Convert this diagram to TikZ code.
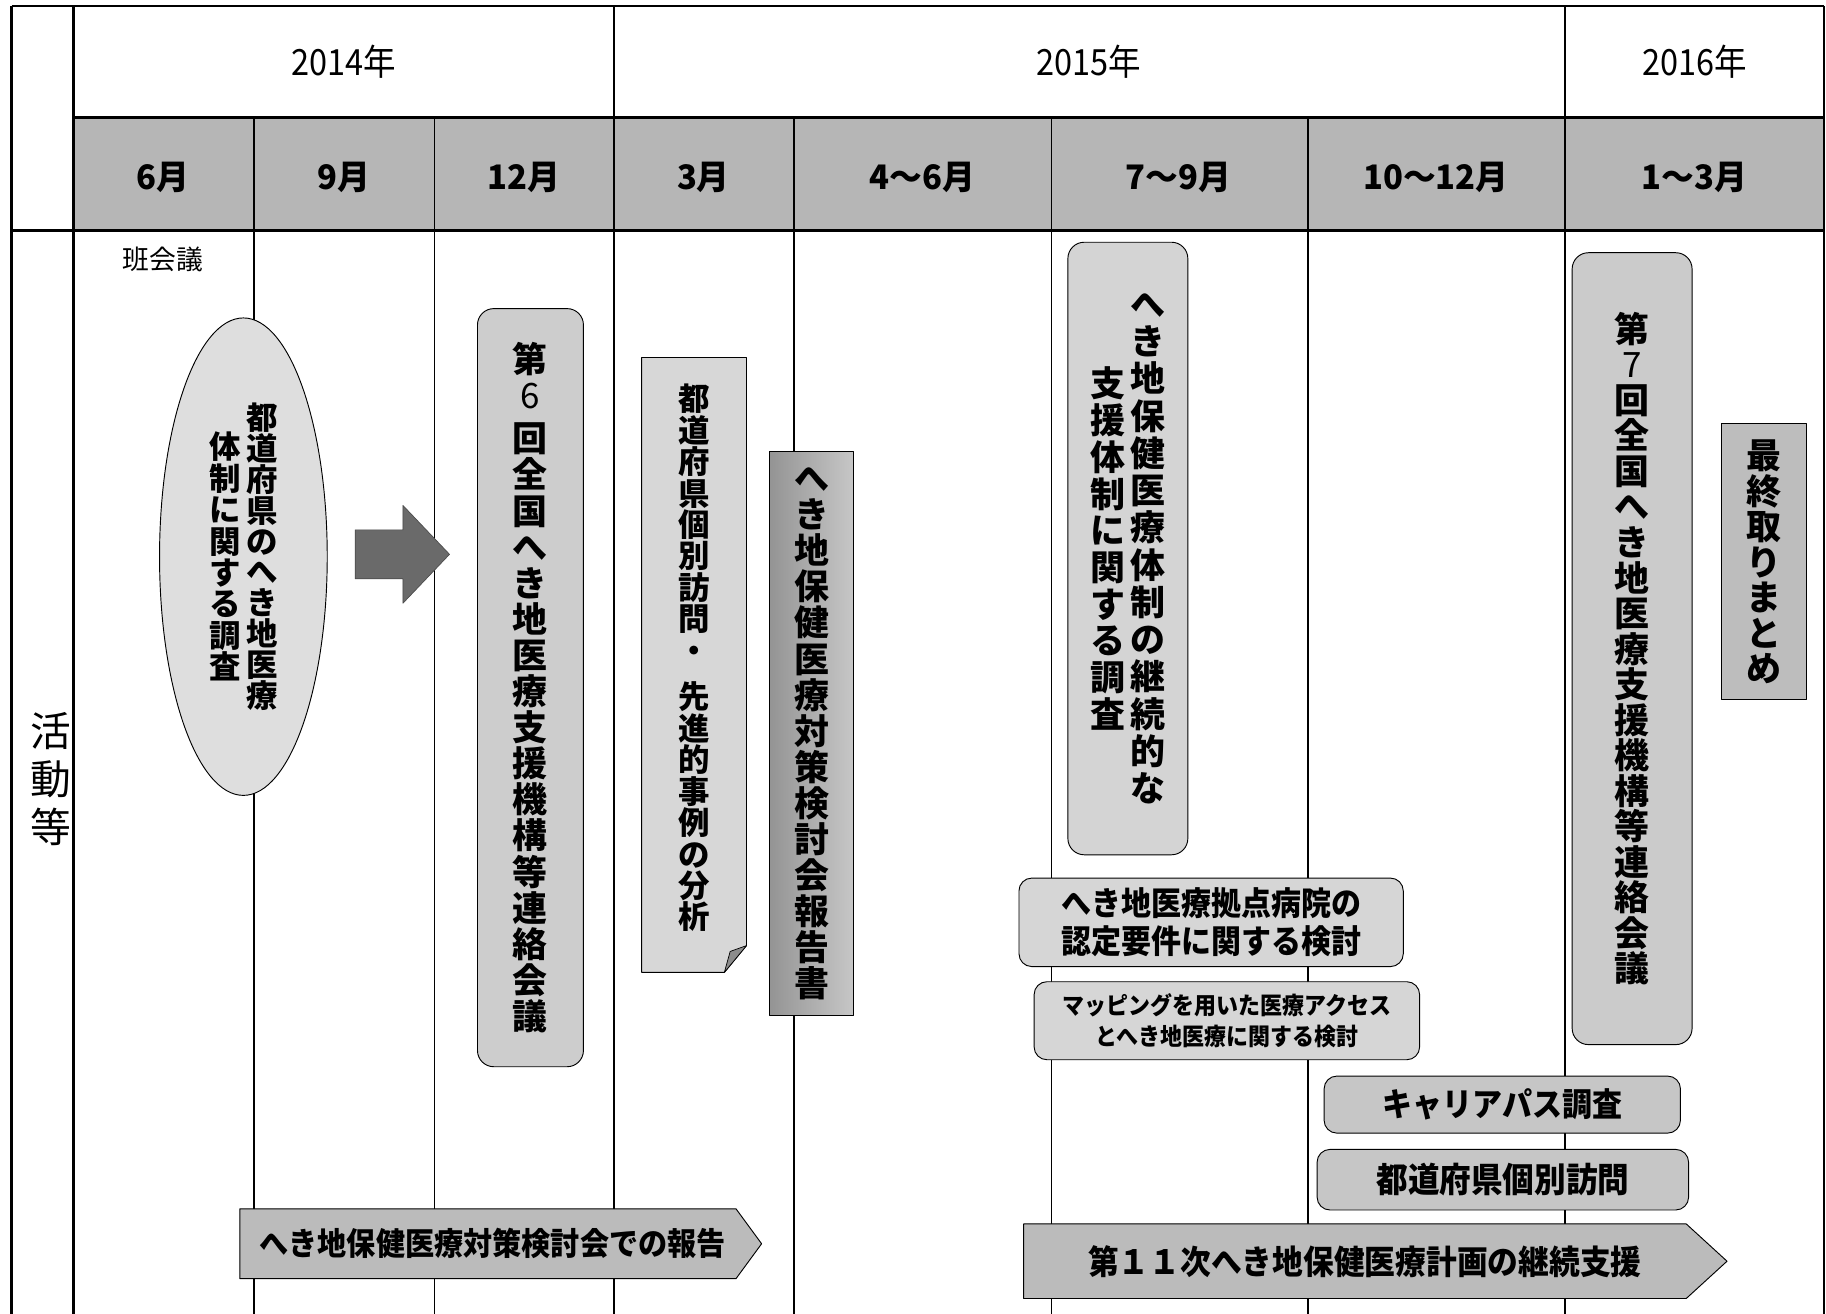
\documentclass[tikz,border=0pt]{standalone}
\usepackage{fontspec}
\setmainfont{Noto Sans CJK JP}
\newfontfamily\jpcond{Noto Sans CJK JP}[FakeStretch=0.92]
\newfontfamily\jpyear{Noto Sans CJK JP}[FakeStretch=0.9]
\newfontfamily\jpmonth{Noto Sans CJK JP}[FakeStretch=0.97]
\usetikzlibrary{shapes.geometric}
\makeatletter
\def\vgapmark{\relax}
\def\vc@gap{\vgapmark}
\newdimen\vgapamount \vgapamount=13pt
% vertical column of characters: #1 = pitch, #2 = characters
\newcommand\vcol[2]{\vbox{\baselineskip=#1\relax\lineskiplimit=-1000pt\relax\lineskip=0pt\relax
  \@tfor\vc@c:=#2\do{\ifx\vc@c\vc@gap\vskip\vgapamount\else\hbox to 1em{\hss\vc@c\hss}\fi}}}
\makeatother
\newcommand\twocol[5]{\hbox{$\vcenter{\vcol{#1}{#2}}$\hskip#5$\vcenter{\vcol{#3}{#4}}$}}
\definecolor{monthgray}{HTML}{B6B6B6}
\definecolor{ellgray}{HTML}{DEDEDE}
\definecolor{dgray}{HTML}{CDCDCD}
\definecolor{egray}{HTML}{D7D7D7}
\definecolor{ggray}{HTML}{D4D4D4}
\definecolor{hgray}{HTML}{D6D6D6}
\definecolor{jgray}{HTML}{C6C6C6}
\definecolor{lgray}{HTML}{BBBBBB}
\definecolor{ngray}{HTML}{CBCBCB}
\definecolor{ogray}{HTML}{BDBDBD}
\definecolor{arrgray}{HTML}{6A6A6A}
\tikzset{
  frameline/.style={line width=2pt, black},
  gridline/.style={line width=1.5pt, black},
  yearlbl/.style={font=\jpyear\fontsize{31}{32}\selectfont, inner sep=0},
  monthlbl/.style={font=\jpmonth\fontsize{29}{30}\selectfont\bfseries, inner sep=0},
  vbig/.style={font=\fontsize{30}{30}\selectfont\bfseries, inner sep=0},
  rbox/.style={draw, line width=0.8pt, rounded corners=14pt, inner sep=0},
  sbox/.style={draw, line width=0.8pt, inner sep=0},
  hbox/.style={draw, line width=0.8pt, rounded corners=11pt, inner sep=0, align=center},
}
\begin{document}
\begin{tikzpicture}[x=1pt,y=-1pt,line join=round]
\useasboundingbox (0,0) rectangle (1568,1128);
\fill[white] (0,0) rectangle (1568,1128);
% header
\fill[monthgray] (63,101) rectangle (1566,198);
\draw[frameline] (10,5) -- (1566,5);
\draw[frameline] (63,101) -- (1566,101);
\draw[frameline] (10,198) -- (1566,198);
\draw[frameline] (10,5) -- (10,1128);
\draw[frameline] (63,5) -- (63,1128);
\draw[frameline] (1566,5) -- (1566,1128);
\draw[frameline] (527,5) -- (527,101);
\draw[frameline] (1344,5) -- (1344,101);
\foreach \xx in {218,373,527,682,903,1123,1344}
  \draw[gridline] (\xx,101) -- (\xx,1128);
\node[yearlbl] (y14) at (295,53) {2014年};
\node[yearlbl] (y15) at (935,53) {2015年};
\node[yearlbl] (y16) at (1455,53) {2016年};
\node[monthlbl] (m1) at (140,152) {6月};
\node[monthlbl] (m2) at (295,152) {9月};
\node[monthlbl] (m3) at (450,152) {12月};
\node[monthlbl] (m4) at (604,152) {3月};
\node[monthlbl] (m5) at (792,152) {4～6月};
\node[monthlbl] (m6) at (1012,152) {7～9月};
\node[monthlbl] (m7) at (1233,152) {10～12月};
\node[monthlbl] (m8) at (1455,152) {1～3月};
\node[inner sep=0, font=\fontsize{35}{35}\selectfont] (act) at (44,669) {\vcol{41pt}{活動等}};
\node[inner sep=0, font=\fontsize{23}{24}\selectfont] (han) at (140,223) {班会議};
% ellipse survey
\node[ellipse, draw, line width=0.8pt, fill=ellgray, minimum width=144pt, minimum height=410pt, inner sep=0,
      font=\fontsize{27}{27}\selectfont\bfseries] (survey) at (209,478)
  {\twocol{27pt}{体制に関する調査}{26.5pt}{都道府県のへき地医療}{5pt}};
% block arrow
\fill[arrgray, draw=black!70, line width=0.6pt] (305,455) -- (346,455) -- (346,434) -- (386,476) -- (346,518) -- (346,497) -- (305,497) -- cycle;
% 6th meeting
\node[rbox, vbig, fill=dgray, minimum width=91pt, minimum height=651pt] (sixth) at (455.5,590.5)
  {\vgapamount=6pt\vcol{31pt}{第{\mdseries 6}\vgapmark 回全国へき地医療支援機構等連絡会議}};
% folded document
\fill[egray, draw=black, line width=0.8pt] (551,307) -- (641,307) -- (641,812) -- (622,835) -- (551,835) -- cycle;
\fill[black!45, draw=black, line width=0.6pt] (622,835) -- (627,817) -- (641,812) -- cycle;
\node[inner sep=0, font=\fontsize{27}{27}\selectfont\bfseries] (visitA) at (596,565)
  {\vcol{27pt}{都道府県個別訪問・\vgapmark 先進的事例の分析}};
% report
\node[sbox, vbig, left color=black!42, right color=black!22, minimum width=72pt, minimum height=484pt] (report) at (697,630)
  {\vcol{31pt}{へき地保健医療対策検討会報告書}};
% continuous survey
\node[rbox, vbig, fill=ggray, minimum width=103pt, minimum height=526pt] (cont) at (968.5,471)
  {\twocol{31.5pt}{支援体制に関する調査}{32pt}{へき地保健医療体制の継続的な}{5pt}};
% hospital / mapping / career / visit
\node[hbox, fill=hgray, minimum width=330pt, minimum height=76pt, font=\jpcond\fontsize{28}{33}\selectfont\bfseries] (base) at (1040,792)
  {へき地医療拠点病院の\\認定要件に関する検討};
\node[hbox, fill=hgray, minimum width=331pt, minimum height=67pt, font=\jpcond\fontsize{20.5}{27}\selectfont\bfseries] (map) at (1053.5,876.5)
  {マッピングを用いた医療アクセス\\とへき地医療に関する検討};
\node[hbox, fill=jgray, minimum width=306pt, minimum height=49pt, font=\jpcond\fontsize{28}{29}\selectfont\bfseries] (career) at (1290,948.5)
  {キャリアパス調査};
\node[hbox, fill=jgray, minimum width=319pt, minimum height=52pt, font=\jpcond\fontsize{29.5}{30}\selectfont\bfseries] (visitB) at (1290.5,1013)
  {都道府県個別訪問};
% 7th meeting
\node[rbox, vbig, fill=ngray, minimum width=103pt, minimum height=680pt] (seventh) at (1401.5,557)
  {\vcol{30.5pt}{第{\mdseries 7}回全国へき地医療支援機構等連絡会議}};
\node[sbox, vbig, fill=ogray, minimum width=73pt, minimum height=237pt] (final) at (1514.5,482.5)
  {\vcol{30.5pt}{最終取りまとめ}};
% pentagon arrows
\fill[lgray, draw=black, line width=0.8pt] (206,1038) -- (632,1038) -- (654,1068) -- (632,1098) -- (206,1098) -- cycle;
\node[inner sep=0, font=\jpcond\fontsize{27.2}{28}\selectfont\bfseries] (repline) at (423,1068) {へき地保健医療対策検討会での報告};
\fill[lgray, draw=black, line width=0.8pt] (879,1051) -- (1448,1051) -- (1483,1083) -- (1448,1115) -- (879,1115) -- cycle;
\node[inner sep=0, font=\jpcond\fontsize{28.7}{29}\selectfont\bfseries] (plan) at (1172,1083) {第１１次へき地保健医療計画の継続支援};
\end{tikzpicture}
\end{document}
